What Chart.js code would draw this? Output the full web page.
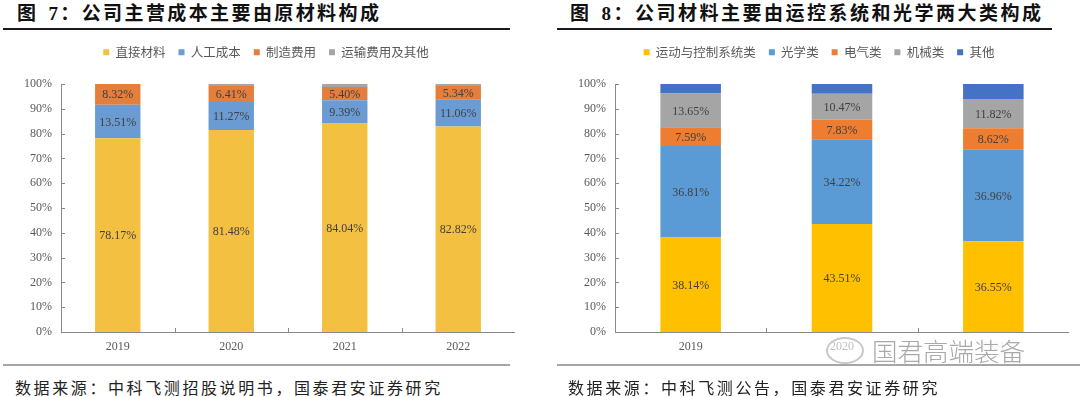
<!DOCTYPE html>
<html>
<head>
<meta charset="utf-8">
<script src="https://cdn.jsdelivr.net/npm/chart.js@4.4.1/dist/chart.umd.min.js"></script>
<style>
    html, body { margin: 0; padding: 0; background: #fff; }
    body { width: 1080px; height: 397px; position: relative; overflow: hidden; font-family: "Liberation Serif", "Noto Sans CJK SC", serif; }
    .title { position: absolute; top: 3px; font-family: "Liberation Serif", "Noto Sans CJK SC", serif; font-weight: 700; font-size: 19px; line-height: 21px; color: #111; white-space: nowrap; }
    .title .num { margin-left: 10px; }
    .rule { position: absolute; height: 2px; background: #1a1a1a; top: 28px; }
    .foot-rule { position: absolute; height: 1.5px; background: #a6a6a6; top: 364px; }
    .source { position: absolute; top: 377px; font-family: "Noto Sans CJK SC", sans-serif; font-size: 16px; line-height: 20px; letter-spacing: 2.6px; color: #222; white-space: nowrap; }
    .panel { position: absolute; }
    .watermark { position: absolute; left: 826px; top: 334px; height: 32px; display: flex; align-items: center; }
    .watermark .icon { width: 38px; height: 27px; border: 2px solid #c8c8c8; border-radius: 50%; margin-right: 8px; box-sizing: border-box; background: rgba(255, 255, 255, 0.6); }
    .watermark span { font-family: "Noto Sans CJK SC", sans-serif; font-weight: 300; font-size: 25.5px; color: #a9a9a9; line-height: 30px; background: rgba(255, 255, 255, 0.9); padding-right: 4px; }
</style>
</head>
<body>
<div class="title" style="left:17px; letter-spacing:2.4px">图<span class="num">7：</span>公司主营成本主要由原材料构成</div>
<div class="rule" style="left:3px; width:507px"></div>
<div class="title" style="left:570px; letter-spacing:2.5px">图<span class="num">8：</span>公司材料主要由运控系统和光学两大类构成</div>
<div class="rule" style="left:557px; width:495px"></div>

<div class="panel" style="left:17px; top:33px; width:498px; height:325px"><canvas id="costChart"></canvas></div>
<div class="panel" style="left:569px; top:33px; width:500px; height:325px"><canvas id="materialChart"></canvas></div>

<div class="watermark"><div class="icon"></div><span>国君高端装备</span></div>

<div class="foot-rule" style="left:3px; width:507px"></div>
<div class="foot-rule" style="left:557px; width:523px"></div>
<div class="source" style="left:15px">数据来源：中科飞测招股说明书，国泰君安证券研究</div>
<div class="source" style="left:568px">数据来源：中科飞测公告，国泰君安证券研究</div>

<script>
// 图7 主营成本构成 (%)
const costYears = ["2019", "2020", "2021", "2022"];
const directMaterial = [78.17, 81.48, 84.04, 82.82];
const laborCost = [13.51, 11.27, 9.39, 11.06];
const manufacturingCost = [8.32, 6.41, 5.40, 5.34];
const freightOther = [0, 0.84, 1.17, 0.78];

// 图8 材料构成 (%)
const materialYears = ["2019", "2020", "2021"];
const motionControl = [38.14, 43.51, 36.55];
const optics = [36.81, 34.22, 36.96];
const electrical = [7.59, 7.83, 8.62];
const mechanical = [13.65, 10.47, 11.82];
const otherMaterial = [3.81, 3.97, 6.05];

const percentTicks = [0, 10, 20, 30, 40, 50, 60, 70, 80, 90, 100];

const AXIS_COLOR = "#8a8a8a";
const TEXT_GREY = "#595959";
const SERIF = "'Liberation Serif', 'Noto Sans CJK SC', serif";

// numbers centred inside each stacked segment
const segmentLabels = {
    id: "segmentLabels",
    afterDatasetsDraw(chart, args, opts) {
        const ctx = chart.ctx;
        ctx.save();
        ctx.font = `12px ${SERIF}`;
        ctx.fillStyle = "#404040";
        ctx.textAlign = "center";
        ctx.textBaseline = "middle";
        chart.data.datasets.forEach((ds, i) => {
            if (!opts.datasets.includes(i)) return;
            chart.getDatasetMeta(i).data.forEach((bar, j) => {
                const value = ds.data[j];
                if (!value) return;
                const { x, y, base } = bar.getProps(["x", "y", "base"], true);
                ctx.fillText(value.toFixed(2) + "%", x, (y + base) / 2 + 1);
            });
        });
        ctx.restore();
    },
};

// small tick marks pointing into the plot, like the Excel original
const innerTicks = {
    id: "innerTicks",
    afterDraw(chart) {
        const { ctx, chartArea: area, scales: { x, y } } = chart;
        ctx.save();
        ctx.strokeStyle = AXIS_COLOR;
        ctx.lineWidth = 1;
        ctx.beginPath();
        y.ticks.forEach((tick, i) => {
            const py = Math.round(y.getPixelForTick(i)) + 0.5;
            ctx.moveTo(area.left, py);
            ctx.lineTo(area.left + 4, py);
        });
        for (let i = 1; i <= x.ticks.length; i++) {
            const px = Math.round(x.getPixelForValue(i - 0.5)) + 0.5;
            ctx.moveTo(px, area.bottom);
            ctx.lineTo(px, area.bottom - 4);
        }
        ctx.stroke();
        ctx.restore();
    },
};

// extra room between legend and plot
const legendGap = {
    id: "legendGap",
    beforeInit(chart, args, opts) {
        const fit = chart.legend.fit;
        chart.legend.fit = function () {
            fit.call(this);
            this.height += opts.extra;
        };
    },
};

function buildStackedChart(canvasId, labels, series, labelled, yWidth) {
    return new Chart(document.getElementById(canvasId), {
        type: "bar",
        data: {
            labels,
            datasets: series.map((s) => ({
                label: s.label,
                data: s.data,
                backgroundColor: s.color,
                borderWidth: 0,
                categoryPercentage: 1,
                barPercentage: 0.4,
            })),
        },
        options: {
            responsive: true,
            maintainAspectRatio: false,
            animation: false,
            layout: { padding: 0 },
            scales: {
                x: {
                    stacked: true,
                    grid: { display: false, drawTicks: false },
                    border: { display: true, color: AXIS_COLOR, width: 1 },
                    ticks: { color: TEXT_GREY, font: { family: SERIF, size: 12 }, padding: 8 },
                    afterFit: (scale) => { scale.height = 26; },
                },
                y: {
                    stacked: true,
                    min: 0,
                    max: 100,
                    afterBuildTicks: (scale) => { scale.ticks = percentTicks.map((v) => ({ value: v })); },
                    grid: { display: false, drawTicks: false },
                    border: { display: true, color: AXIS_COLOR, width: 1 },
                    ticks: {
                        color: TEXT_GREY,
                        font: { family: SERIF, size: 12 },
                        padding: 9,
                        callback: (value) => value + "%",
                    },
                    afterFit: (scale) => { scale.width = yWidth; },
                },
            },
            plugins: {
                legend: {
                    position: "top",
                    labels: {
                        boxWidth: 6,
                        boxHeight: 6,
                        padding: 13,
                        color: TEXT_GREY,
                        font: { family: "'Noto Sans CJK SC', sans-serif", size: 12.5 },
                    },
                },
                legendGap: { extra: 15.5 },
                segmentLabels: { datasets: labelled },
                tooltip: { enabled: false },
            },
        },
        plugins: [segmentLabels, innerTicks, legendGap],
    });
}

buildStackedChart("costChart", costYears, [
    { label: "直接材料", data: directMaterial, color: "#F4C042" },
    { label: "人工成本", data: laborCost, color: "#6A9BD3" },
    { label: "制造费用", data: manufacturingCost, color: "#E47E3C" },
    { label: "运输费用及其他", data: freightOther, color: "#A5A5A5" },
], [0, 1, 2], 44);

buildStackedChart("materialChart", materialYears, [
    { label: "运动与控制系统类", data: motionControl, color: "#FFC000" },
    { label: "光学类", data: optics, color: "#5B9BD5" },
    { label: "电气类", data: electrical, color: "#ED7D31" },
    { label: "机械类", data: mechanical, color: "#A5A5A5" },
    { label: "其他", data: otherMaterial, color: "#4472C4" },
], [0, 1, 2, 3], 46);
</script>
</body>
</html>
